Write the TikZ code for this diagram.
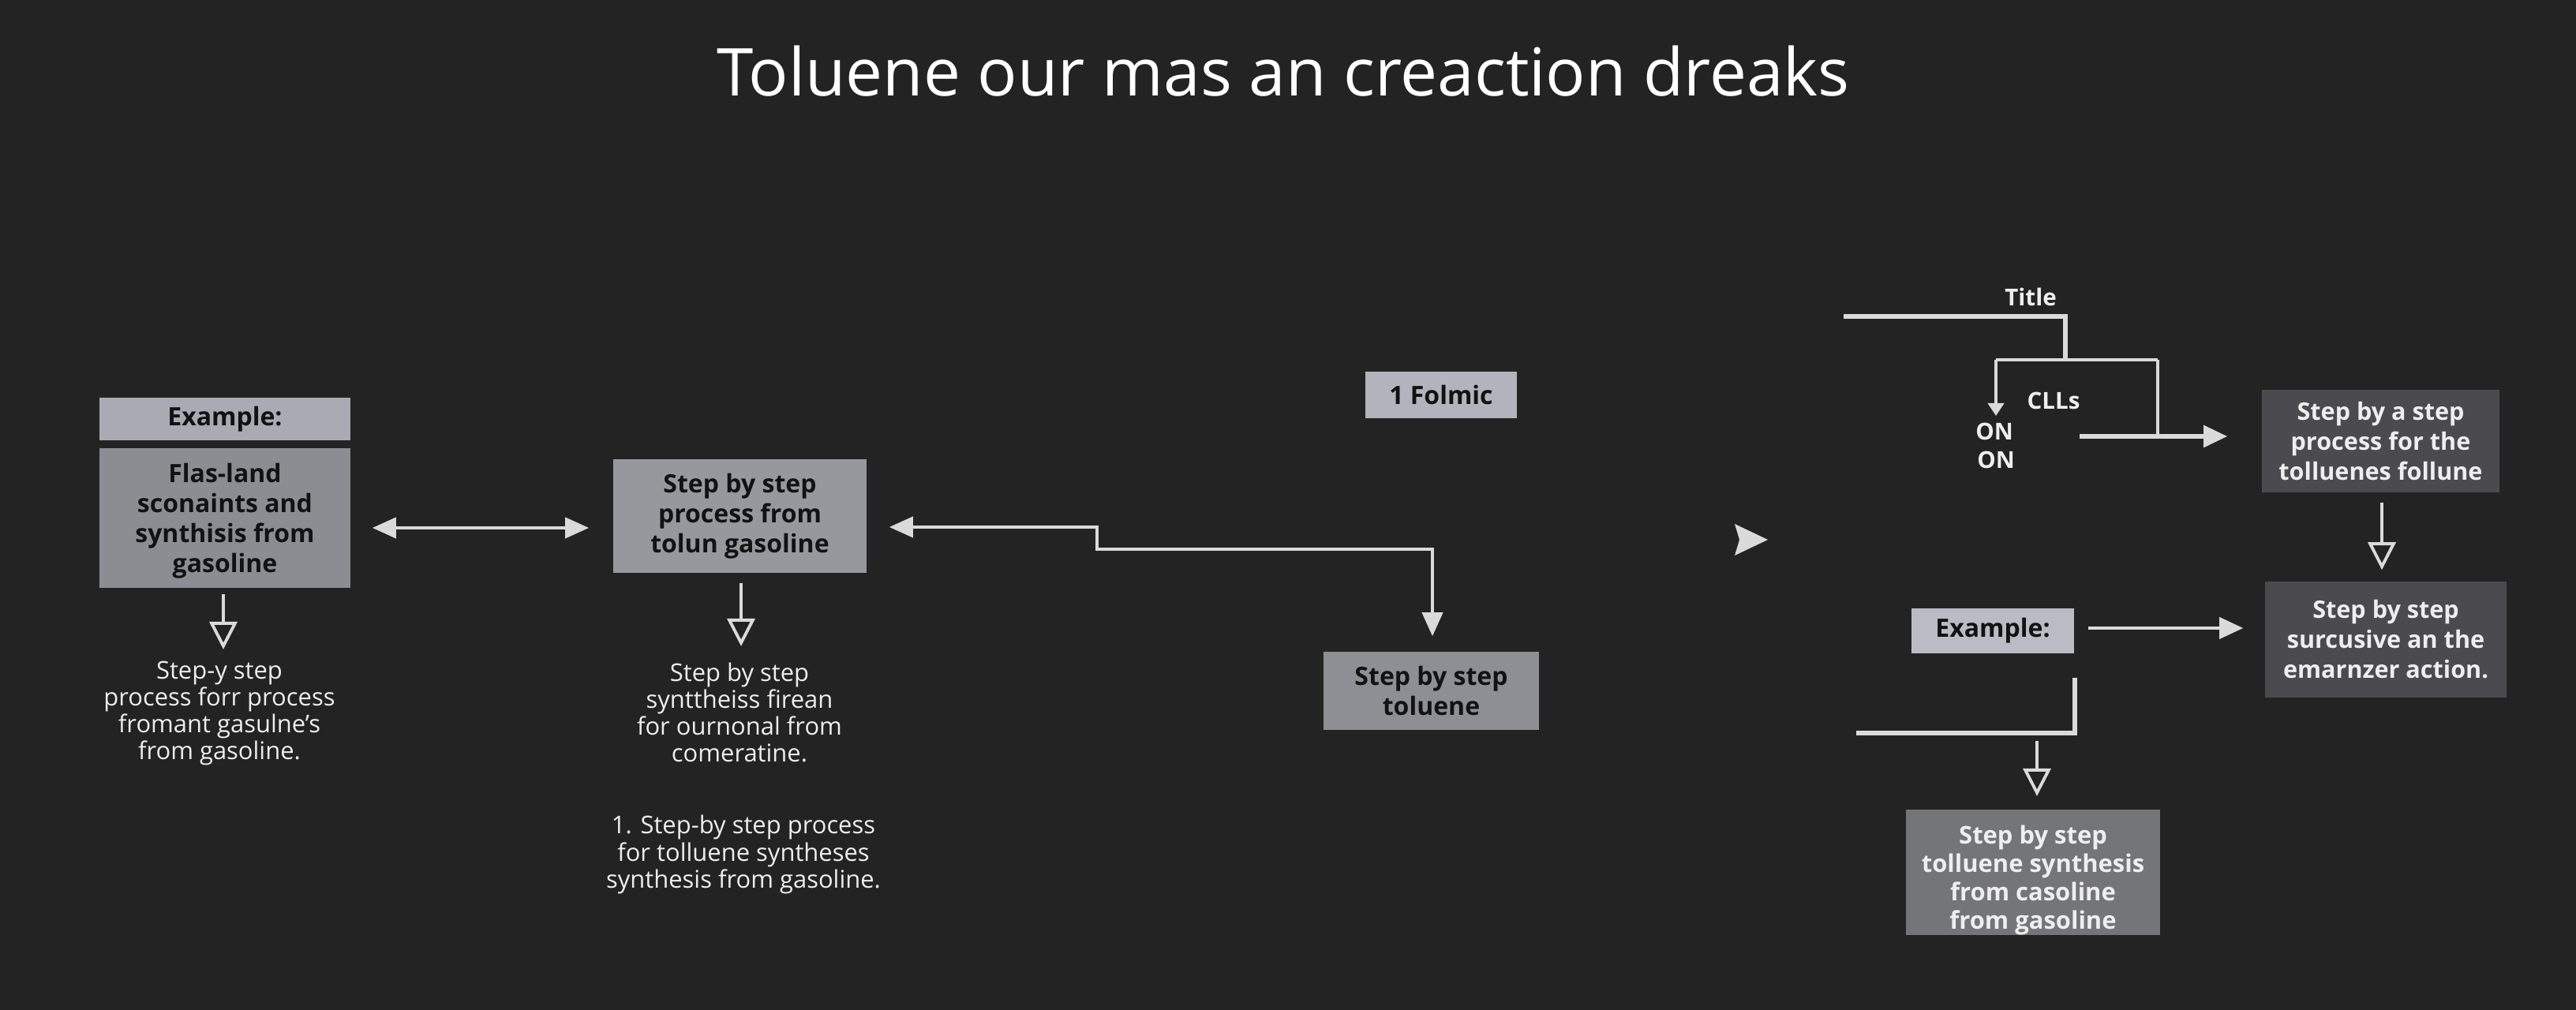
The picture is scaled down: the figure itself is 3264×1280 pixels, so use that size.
\documentclass[tikz,border=0pt]{standalone}
\usepackage{fontspec}
\setmainfont{Open Sans}
\usetikzlibrary{arrows.meta,calc}
\definecolor{bg}{HTML}{232323}
\definecolor{linec}{HTML}{DADADA}
\definecolor{exgrey}{HTML}{A9AAB4}
\definecolor{midgrey}{HTML}{8B8D93}
\definecolor{stepgrey}{HTML}{96989E}
\definecolor{folgrey}{HTML}{B2B3BC}
\definecolor{tolgrey}{HTML}{8D8F95}
\definecolor{darkbox}{HTML}{4B4B4F}
\definecolor{ex2grey}{HTML}{BABBC4}
\definecolor{botgrey}{HTML}{737579}
\definecolor{wtext}{HTML}{EEEEEE}
\definecolor{btext}{HTML}{121212}
\begin{document}
\begin{tikzpicture}[x=0.01cm,y=-0.01cm,
  lbox/.style={rectangle, inner sep=0pt, align=center, text=btext,
    font=\bfseries\fontsize{9.1}{10.8}\selectfont},
  dbox/.style={rectangle, inner sep=0pt, align=center, text=wtext, fill=darkbox,
    font=\bfseries\fontsize{8.7}{10.8}\selectfont},
  desc/.style={inner sep=0pt, align=center, text=wtext,
    font=\fontsize{8.8}{9.7}\selectfont},
  lab/.style={inner sep=0pt, text=wtext, font=\bfseries\fontsize{8.4}{10}\selectfont},
  conn/.style={draw=linec, line width=1.1pt},
  thick conn/.style={draw=linec, line width=1.6pt},
  fillhead/.style={-{Triangle[length=0.3cm,width=0.27cm]}},
  bothheads/.style={{Triangle[length=0.3cm,width=0.26cm]}-{Triangle[length=0.3cm,width=0.26cm]}},
  openhead/.style={-{Triangle[open,length=0.35cm,width=0.35cm,fill=bg]}}
]
\fill[bg] (0,0) rectangle (3264,1280);
\useasboundingbox (0,0) rectangle (3264,1280);

% title
\node[anchor=base, inner sep=0pt, text=white, font=\fontsize{23.8}{27}\selectfont] (title) at (1626,122) {Toluene our mas an creaction dreaks};

% left column
\node[lbox, fill=exgrey, minimum width=3.18cm, minimum height=0.54cm] (ex1) at (285,531) {Example:};
\node[lbox, fill=midgrey, minimum width=3.18cm, minimum height=1.77cm] (flas) at (285,656.5) {\rule{0pt}{9pt}Flas-land\\sconaints and\\synthisis from\\gasoline};
\node[desc] (t1) at (278,904) {Step-y step\\process forr process\\fromant gasulne’s\\from gasoline.};

% centre column
\node[lbox, fill=stepgrey, minimum width=3.21cm, minimum height=1.44cm] (step1) at (937.5,654) {Step by step\\process from\\tolun gasoline};
\node[desc] (t2) at (937,903) {Step by step\\synttheiss firean\\for ournonal from\\comeratine.};
\node[desc] (t3) at (942,1083) {1. Step-by step process\\for tolluene syntheses\\synthesis from gasoline.};

\node[lbox, fill=folgrey, minimum width=1.92cm, minimum height=0.59cm] (folmic) at (1826,500.5) {1 Folmic};
\node[lbox, fill=tolgrey, minimum width=2.73cm, minimum height=0.99cm] (tol) at (1813.5,875.5) {Step by step\\toluene};

% right part
\node[lab] (ttl) at (2573,376) {Title};
\node[lab] (clls) at (2602,508) {CLLs};
\node[lab] (on1) at (2527,547) {ON};
\node[lab] (on2) at (2529,583) {ON};

\node[dbox, minimum width=3.01cm, minimum height=1.30cm] (dark1) at (3016.5,559) {Step by a step\\process for the\\tolluenes follune};
\node[dbox, minimum width=3.06cm, minimum height=1.47cm] (dark2) at (3023,810.5) {Step by step\\surcusive an the\\emarnzer action.};
\node[lbox, fill=ex2grey, minimum width=2.06cm, minimum height=0.57cm] (ex2) at (2525,799.5) {Example:};
\node[dbox, fill=botgrey, minimum width=3.22cm, minimum height=1.59cm, font=\bfseries\fontsize{8.8}{10.3}\selectfont] (box3) at (2576,1105.5) {\rule{0pt}{12.4pt}Step by step\\tolluene synthesis\\from casoline\\from gasoline};

% coordinates for free ends
\coordinate (a1s) at (283,753);
\coordinate (a1e) at (283,823);
\coordinate (a2s) at (939,739);
\coordinate (a2e) at (939,819);
\coordinate (tl0) at (2336,401);
\coordinate (tl1) at (2617,401);
\coordinate (tl2) at (2617,456);
\coordinate (brL) at (2529,456);
\coordinate (brR) at (2734,456);
\coordinate (brRb) at (2734,553);
\coordinate (onArr) at (2529,527);
\coordinate (cllS) at (2635,553);
\coordinate (exL0) at (2629,859);
\coordinate (exL1) at (2629,929);
\coordinate (exL2) at (2352,929);
\coordinate (b3s) at (2581,939);

% connectors
\draw[conn, bothheads] ($(flas.east)+(27,12.5)$) -- ($(step1.west)+(-30,15)$);
\draw[conn, openhead] (a1s) -- (a1e);
\draw[conn, openhead] (a2s) -- (a2e);
\draw[conn, bothheads] ($(step1.east)+(28,14)$) -- (1390,668) -- (1390,696) -- (1815,696) -- ($(tol.north)+(1.5,-19)$);

\draw[thick conn] (tl0) -- (tl1) -- (tl2);
\draw[conn] (brL) -- (brR);
\draw[conn, -{Triangle[length=0.16cm,width=0.2cm]}] (brL) -- (onArr);
\draw[conn] (brR) -- (brRb);
\draw[thick conn, fillhead] (cllS) -- ($(dark1.west)+(-43,-6)$);

\draw[conn, openhead] ($(dark1.south)+(1.5,12)$) -- ($(dark2.north)+(-5,-14)$);
\draw[conn, fillhead] ($(ex2.east)+(17,-3.5)$) -- ($(dark2.west)+(-27,-14.5)$);
\draw[thick conn] (exL0) -- (exL1) -- (exL2);
\draw[conn, openhead] (b3s) -- ($(box3.north)+(5,-16)$);

% lone arrow tip
\fill[linec] (2198,664) -- (2240,684) -- (2198,704) -- (2204,684) -- cycle;
\end{tikzpicture}
\end{document}
